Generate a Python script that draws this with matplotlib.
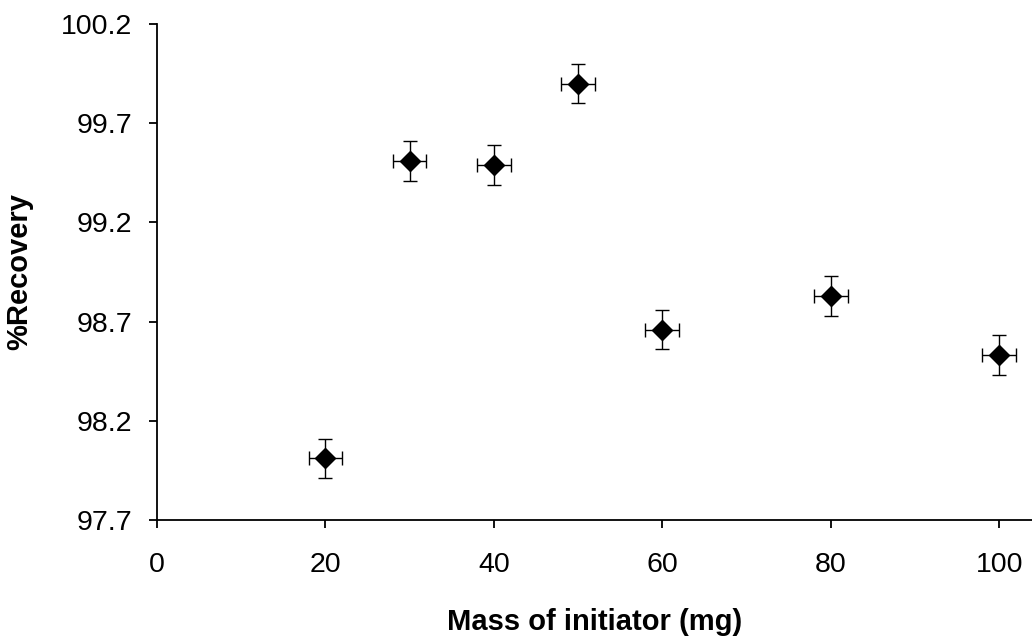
import matplotlib
matplotlib.use("Agg")
import matplotlib.pyplot as plt

plt.rcParams['font.family'] = ['Liberation Sans', 'DejaVu Sans']

mass = [20, 30, 40, 50, 60, 80, 100]
recovery = [98.01, 99.51, 99.49, 99.90, 98.66, 98.83, 98.53]
yerr = [0.1, 0.1, 0.1, 0.1, 0.1, 0.1, 0.1]
xerr = [2, 2, 2, 2, 2, 2, 2]

xticks = [0, 20, 40, 60, 80, 100]
yticks = [97.7, 98.2, 98.7, 99.2, 99.7, 100.2]

fig = plt.figure(figsize=(10.32, 6.37), dpi=100)
ax = fig.add_axes([157/1032, 117/637, 1 - 157/1032, (520-24)/637])

ax.errorbar(mass, recovery, xerr=xerr, yerr=yerr, fmt='D', color='black',
            ms=10, ecolor='black', elinewidth=1, capsize=5, capthick=1)

ax.set_xlim(0, 103.9)
ax.set_ylim(97.7, 100.2)
ax.set_xticks(xticks)
ax.set_yticks(yticks)
ax.set_yticklabels([f"{v:.1f}" for v in yticks])

for s in ['top', 'right']:
    ax.spines[s].set_visible(False)
for s in ['left', 'bottom']:
    ax.spines[s].set_linewidth(1.3)

ax.tick_params(direction='out', length=6, width=1.3, labelsize=20.5)
ax.tick_params(axis='x', pad=17)
ax.tick_params(axis='y', pad=12)
ax.set_xlabel('Mass of initiator (mg)', fontsize=21, fontweight='bold', labelpad=22)
ax.set_ylabel('%Recovery', fontsize=21, fontweight='bold', labelpad=20)

fig.savefig('out.png', dpi=100)
